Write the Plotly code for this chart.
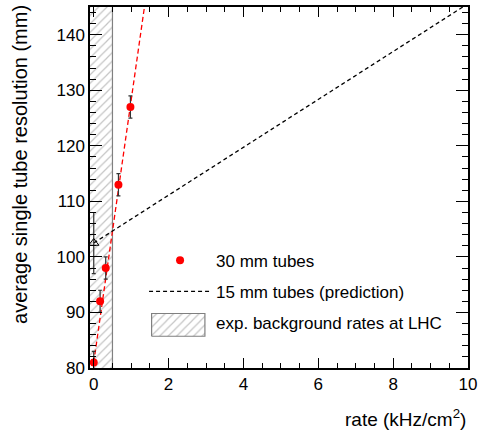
import plotly.graph_objects as go

# 30 mm tubes measurements
rate_30 = [0.0, 0.17, 0.32, 0.66, 0.98]
res_30 = [81, 92, 98, 113, 127]
err_30 = [2, 2, 2, 2, 2]

# red fit line
fit_x = [0.0, 1.45]
fit_y = [81.0, 149.5]

# 15 mm tubes prediction
pred_x = [0.0, 10.0]
pred_y = [102.5, 145.6]
pred_pt_x = [0.0]
pred_pt_y = [102.5]
pred_pt_err = [5.5]

# expected background region at LHC
bg_x = [-0.1, 0.5, 0.5, -0.1, -0.1]
bg_y = [80, 80, 145, 145, 80]
bg_edge_x = [0.5, 0.5]
bg_edge_y = [80, 145]

# legend key box for the hatched region (fraction of the plot area)
key_x = [0.163, 0.304, 0.304, 0.163, 0.163]
key_y = [0.088, 0.088, 0.151, 0.151, 0.088]

FONT = "Liberation Sans, Arial, sans-serif"
HATCH = dict(shape="/", fgcolor="#8a8a8a", bgcolor="white", size=6, solidity=0.2)

fig = go.Figure()

fig.add_trace(go.Scatter(
    x=bg_x, y=bg_y, mode="none", fill="toself", fillcolor="white",
    fillpattern=HATCH, showlegend=False, hoverinfo="skip",
))
fig.add_trace(go.Scatter(
    x=bg_edge_x, y=bg_edge_y, mode="lines", line=dict(color="#808080", width=1.2),
    showlegend=False, hoverinfo="skip",
))

fig.add_trace(go.Scatter(
    x=fit_x, y=fit_y, mode="lines",
    line=dict(color="red", width=1.3, dash="5px,3px"),
    showlegend=False, hoverinfo="skip",
))

fig.add_trace(go.Scatter(
    x=pred_x, y=pred_y, mode="lines",
    line=dict(color="black", width=1.3, dash="4px,3px"),
    name="15 mm tubes (prediction)", legendgroup="b", legendrank=2,
))

fig.add_trace(go.Scatter(
    x=pred_pt_x, y=pred_pt_y, mode="markers",
    marker=dict(symbol="triangle-up-open", size=9, color="black", line=dict(width=1)),
    error_y=dict(type="data", array=pred_pt_err, color="#333333", thickness=1.2, width=2),
    showlegend=False,
))

fig.add_trace(go.Scatter(
    x=rate_30, y=res_30, mode="markers",
    marker=dict(symbol="circle", size=8, color="red"),
    error_y=dict(type="data", array=err_30, color="#333333", thickness=1.2, width=2),
    name="30 mm tubes", legendgroup="a", legendrank=1,
))

# legend entry text for the hatched region (key drawn on overlay axes)
fig.add_trace(go.Scatter(
    x=[None], y=[None], mode="none",
    name="exp. background rates at LHC", legendgroup="c", legendrank=3,
))
fig.add_trace(go.Scatter(
    x=key_x, y=key_y, xaxis="x2", yaxis="y2", mode="lines", fill="toself",
    fillcolor="white", fillpattern=HATCH, line=dict(color="#808080", width=1.2),
    showlegend=False, hoverinfo="skip",
))

fig.update_layout(
    width=488, height=436,
    margin=dict(l=90, r=20, t=5, b=68),
    plot_bgcolor="white", paper_bgcolor="white",
    font=dict(family=FONT, color="black"),
    legend=dict(x=0.143, y=0.347, xanchor="left", yanchor="top",
                font=dict(size=17), tracegroupgap=6, itemwidth=62,
                bgcolor="rgba(0,0,0,0)", traceorder="grouped"),
    xaxis=dict(range=[-0.1, 10], tickvals=[0, 2, 4, 6, 8, 10], ticks="inside",
               ticklen=10, tickwidth=1, tickcolor="black", mirror="ticks",
               showline=True, linecolor="black", linewidth=1.5, showgrid=False,
               zeroline=False, tickfont=dict(size=17),
               minor=dict(dtick=0.5, tick0=0, ticks="inside", ticklen=5,
                          tickcolor="black", showgrid=False)),
    yaxis=dict(range=[80, 145], tickvals=[80, 90, 100, 110, 120, 130, 140],
               ticks="inside", ticklen=12, tickwidth=1, tickcolor="black",
               mirror="ticks", showline=True, linecolor="black", linewidth=1.5,
               showgrid=False, zeroline=False, tickfont=dict(size=17),
               minor=dict(dtick=2, tick0=80, ticks="inside", ticklen=6,
                          tickcolor="black", showgrid=False)),
    xaxis2=dict(overlaying="x", range=[0, 1], visible=False),
    yaxis2=dict(overlaying="y", range=[0, 1], visible=False),
    annotations=[
        dict(text="rate (kHz/cm<sup>2</sup>)", xref="paper", yref="paper",
             x=1, y=-0.1, xanchor="right", yanchor="top", showarrow=False,
             font=dict(size=19)),
        dict(text="average single tube resolution (mm)", xref="paper", yref="paper",
             x=-0.185, y=1.01, xanchor="center", yanchor="top", textangle=-90,
             showarrow=False, font=dict(size=20)),
    ],
)

fig.write_html("out.html", post_script="document.body.style.margin='0';",
               config={"displayModeBar": False})
